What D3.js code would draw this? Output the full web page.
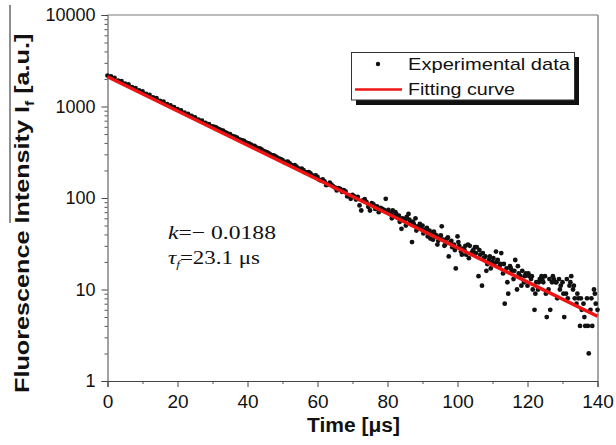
<!doctype html>
<html>
<head>
<meta charset="utf-8">
<title>Fluorescence decay</title>
<script src="https://d3js.org/d3.v7.min.js"></script>
<style>
  body { margin: 0; padding: 0; background: #fff; }
  svg text { font-family: "Liberation Sans", Arial, sans-serif; fill: #111; }
</style>
</head>
<body>
<script>
// --- data ---
// early part, one point per microsecond
const timeEarly = [0,1,2,3,4,5,6,7,8,9,10,11,12,13,14,15,16,17,18,19,20,21,22,23,24,25,26,27,28,29,30];
const intensityEarly = [2180,2130,2060,1920,1890,1780,1740,1630,1590,1500,1460,1370,1340,1260,1230,1150,1130,1060,1030,985,935,905,855,830,790,760,720,700,660,640,605];

// middle part, every 0.5 us
const timeMid = [30.5,31,31.5,32,32.5,33,33.5,34,34.5,35,35.5,36,36.5,37,37.5,38,38.5,39,39.5,40,
  40.5,41,41.5,42,42.5,43,43.5,44,44.5,45,45.5,46,46.5,47,47.5,48,48.5,49,49.5,50,
  50.5,51,51.5,52,52.5,53,53.5,54,54.5,55,55.5,56,56.5,57,57.5,58,58.5,59,59.5,60,
  60.5,61,61.5,62,62.5,63,63.5,64,64.5,65,65.5,66,66.5,67,67.5,68,68.5,69,69.5,70,
  70.5,71,71.5,72,72.5,73,73.5,74,74.5,75,75.5,76,76.5,77,77.5,78,78.5,79,79.5,80];
const intensityMid = [600,592,572,562,548,545,524,515,503,498,478,470,464,458,438,432,426,420,405,398,
  392,384,372,370,358,348,348,340,327,322,318,310,300,292,293,284,276,270,266,260,
  246,248,249,240,230,226,228,220,211,207,209,202,190,190,192,186,175,174,177,170,
  158,155,160,152,138,141,147,140,134,130,121,128,126,117,122,118,104,106,98,108,
  104,96,103,83,73,94,97,90,80,73,88,85,76,81,70,78,76,74,98,71];

// late, noisy tail
const timeLate = [80.5,81,81.5,82,82.5,83,83.5,84,84.5,85,85.5,86,86.5,87,87.5,88,88.5,89,89.5,90,
  90.5,91,91.5,92,92.5,93,93.5,94,94.5,95,95.5,96,96.5,97,97.5,98,98.5,99,99.5,100,
  100.5,101,101.5,102,102.5,103,103.5,104,104.5,105,105.5,106,106.5,107,107.5,108,108.5,109,109.5,110,
  110.5,111,111.5,112,112.5,113,113.5,114,114.5,115,115.5,116,116.5,117,117.5,118,118.5,119,119.5,120,
  120.5,121,121.5,122,122.5,123,123.5,124,124.5,125,125.5,126,126.5,127,127.5,128,128.5,129,129.5,130,
  130.5,131,131.5,132,132.5,133,133.5,134,134.5,135,135.5,136,136.5,137,137.5,138,138.5,139,139.5,140];
const intensityLate = [69,66,73,64,67,62,55,46,59,57,62,67,54,33,52,60,49,48,46,50,
  45,44,38,44,41,35,40,39,34,37,49,35,31,36,23,33,29,31,17,38,
  30,26,28,27,24,31,30,25,27,29,29,14,24,11,22,23,19,21,17,20,
  19,26,21,18,25,15,7,17,9,18,16,13,21,10,15,14,16,12,15,11,
  14,13,10,6,12,10,13,14,12,14,5,10,6,12,13,12,8,13,11,12,
  5,9,8,11,14,10,8,7,8,4,6,7,4,8,2,6,4,10,7,6];

// extra samples in the tail (quarter-step offsets)
const timeExtra = [80.25,81.25,82.25,83.25,84.25,85.25,86.25,87.25,88.25,89.25,
  90.25,91.25,92.25,93.25,94.25,95.25,96.25,97.25,98.25,99.25,
  100.25,101.25,102.25,103.25,104.25,105.25,106.25,107.25,108.25,109.25,
  110.25,111.25,112.25,113.25,114.25,115.25,116.25,117.25,118.25,119.25,
  120.25,121.25,122.25,123.25,124.25,125.25,126.25,127.25,128.25,129.25,
  130.25,131.25,132.25,133.25,134.25,135.25,136.25,137.25,138.25,139.25];
const intensityExtra = [74,60,70,64,60,50,58,55,44,52,
  41,47,36,43,31,39,30,37,34,27,
  33,24,30,22,26,25,27,25,16,23,
  22,20,19,19,12,17,16,18,11,14,
  15,14,9,12,13,9,13,14,12,10,
  9,13,12,11,9,8,5,4,8,9];

// fitted line, k = -0.0188 (straight on the log axis)
const fitTime = [0, 140];
const fitIntensity = [2113, 5.1];

const xMajor = [0, 20, 40, 60, 80, 100, 120, 140];
const xMinor = [10, 30, 50, 70, 90, 110, 130];
const yMajor = [1, 10, 100, 1000, 10000];

const legendItems = ["Experimental data", "Fitting curve"];

// --- chart ---
const width = 616, height = 445;
const svg = d3.select("body").append("svg")
  .attr("width", width)
  .attr("height", height);

const x = d3.scaleLinear().domain([0, 140]).range([107.5, 597.5]);
const y = d3.scaleLog().domain([1, 10000]).range([381, 15]);

// frame: top and right lines
svg.append("line").attr("x1", 107.5).attr("x2", 598).attr("y1", 15).attr("y2", 15)
  .attr("stroke", "#777").attr("stroke-width", 1);
svg.append("line").attr("x1", 598).attr("x2", 598).attr("y1", 15).attr("y2", 381)
  .attr("stroke", "#888").attr("stroke-width", 1.5);

// y axis
const yMinor = y.ticks().filter(v => !yMajor.includes(v));
svg.append("g").attr("transform", "translate(107.5,0)")
  .call(d3.axisLeft(y).tickValues(yMinor).tickSize(3).tickFormat(""))
  .call(g => g.select(".domain").remove())
  .selectAll("line").attr("stroke", "#555");
const yAxis = svg.append("g").attr("transform", "translate(107.5,0)")
  .call(d3.axisLeft(y).tickValues(yMajor).tickSize(6).tickPadding(6).tickFormat(d3.format("d")));
yAxis.select(".domain").attr("stroke", "#444");
yAxis.selectAll("line").attr("stroke", "#444");
yAxis.selectAll("text").style("font-size", "18px").attr("fill", "#111");

// x axis
svg.append("g").attr("transform", "translate(0,381)")
  .call(d3.axisBottom(x).tickValues(xMinor).tickSize(3).tickFormat(""))
  .call(g => g.select(".domain").remove())
  .selectAll("line").attr("stroke", "#555");
const xAxis = svg.append("g").attr("transform", "translate(0,381)")
  .call(d3.axisBottom(x).tickValues(xMajor).tickSize(6).tickPadding(8));
xAxis.select(".domain").attr("stroke", "#444");
xAxis.selectAll("line").attr("stroke", "#444");
xAxis.selectAll("text").style("font-size", "19px").attr("fill", "#111");

// scatter points
const points = [];
[[timeEarly, intensityEarly], [timeMid, intensityMid], [timeLate, intensityLate], [timeExtra, intensityExtra]]
  .forEach(([ts, vs]) => {
    ts.forEach((t, i) => points.push({ t: t, v: vs[i] }));
  });
svg.append("g").selectAll("circle")
  .data(points)
  .enter()
  .append("circle")
  .attr("cx", d => x(d.t))
  .attr("cy", d => y(d.v))
  .attr("r", 2.4)
  .attr("fill", "#111");

// fitting curve on top
const fitLine = d3.line().x(d => x(d[0])).y(d => y(d[1]));
svg.append("path")
  .datum(fitTime.map((t, i) => [t, fitIntensity[i]]))
  .attr("d", fitLine)
  .attr("fill", "none")
  .attr("stroke", "#ee1414")
  .attr("stroke-width", 3.5);

// axis titles
svg.append("line").attr("x1", 10).attr("x2", 10).attr("y1", 5).attr("y2", 223)
  .attr("stroke", "#444").attr("stroke-width", 1.2);

const yTitle = svg.append("text")
  .attr("transform", "translate(29,393) rotate(-90) scale(1.2,1)")
  .attr("text-anchor", "start")
  .style("font-size", "21px")
  .style("font-weight", "bold");
yTitle.append("tspan").text("Fluorescence Intensity I");
yTitle.append("tspan").attr("dy", 5).style("font-size", "13px").text("f");
yTitle.append("tspan").attr("dy", -5).text(" [a.u.]");

svg.append("text")
  .attr("x", 353.5).attr("y", 432)
  .attr("text-anchor", "middle")
  .attr("textLength", 93)
  .attr("lengthAdjust", "spacingAndGlyphs")
  .style("font-size", "20px")
  .style("font-weight", "bold")
  .text("Time [μs]");

// legend
const legend = svg.append("g");
legend.append("rect").attr("x", 356).attr("y", 57).attr("width", 223).attr("height", 48).attr("fill", "#111");
legend.append("rect").attr("x", 351.5).attr("y", 52.5).attr("width", 223).attr("height", 47.5)
  .attr("fill", "#fff").attr("stroke", "#333").attr("stroke-width", 1);
legend.append("circle").attr("cx", 378).attr("cy", 64).attr("r", 2.2).attr("fill", "#111");
legend.append("line").attr("x1", 355).attr("x2", 402).attr("y1", 89.5).attr("y2", 89.5)
  .attr("stroke", "#ee1414").attr("stroke-width", 2.5);
legend.selectAll("text.lg")
  .data(legendItems)
  .enter()
  .append("text")
  .attr("class", "lg")
  .attr("x", 408)
  .attr("y", (d, i) => 69.5 + i * 25.5)
  .attr("textLength", (d, i) => i === 0 ? 162 : 107)
  .attr("lengthAdjust", "spacingAndGlyphs")
  .style("font-size", "17px")
  .text(d => d);

// annotation
const serif = "'Liberation Serif', 'Times New Roman', serif";
const kText = svg.append("text")
  .attr("x", 168).attr("y", 238.5)
  .attr("textLength", 108)
  .attr("lengthAdjust", "spacingAndGlyphs")
  .style("font-family", serif)
  .style("font-size", "19px");
kText.append("tspan").style("font-style", "italic").text("k");
kText.append("tspan").text("=\u2212 0.0188");

const tauText = svg.append("text")
  .attr("x", 168).attr("y", 263.5)
  .attr("textLength", 92)
  .attr("lengthAdjust", "spacingAndGlyphs")
  .style("font-family", serif)
  .style("font-size", "19px");
tauText.append("tspan").style("font-style", "italic").text("τ");
tauText.append("tspan").attr("dy", 4).style("font-size", "11px").style("font-style", "italic").text("f");
tauText.append("tspan").attr("dy", -4).text("=23.1 μs");
</script>
</body>
</html>
